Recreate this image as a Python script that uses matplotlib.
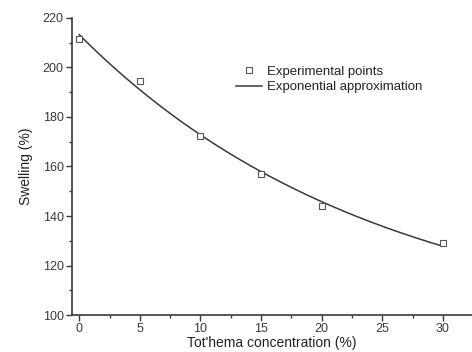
import matplotlib
matplotlib.use('Agg')
import matplotlib.pyplot as plt
import numpy as np
from matplotlib.ticker import MultipleLocator

plt.rcParams['font.family'] = ['Liberation Sans', 'DejaVu Sans']

# Experimental points
conc = [0, 5, 10, 15, 20, 30]
swelling = [211.5, 194.5, 172.5, 157.0, 144.0, 129.0]

# Exponential approximation y = y0 + A*exp(-x/t), fitted to the points
x = np.array(conc, dtype=float)
y = np.array(swelling)
best = None
for t in np.linspace(5, 200, 2000):
    M = np.column_stack([np.ones_like(x), np.exp(-x / t)])
    coef, res, _, _ = np.linalg.lstsq(M, y, rcond=None)
    err = np.sum((M @ coef - y) ** 2)
    if best is None or err < best[0]:
        best = (err, t, coef)
_, tau, (y0, A) = best
xf = np.linspace(0, 30, 200)
yf = y0 + A * np.exp(-xf / tau)

col = '#3a3a3a'
fig = plt.figure(figsize=(4.72, 3.52), dpi=100)
ax = fig.add_axes([0.1525, 0.105, 0.8475, 0.844])

ax.plot(conc, swelling, 's', ms=4.2, mfc='white', mec='#555555', mew=0.8,
        label='Experimental points', zorder=3)
ax.plot(xf, yf, '-', color=col, lw=1.1, label='Exponential approximation')

ax.set_xlim(-0.6, 32.4)
ax.set_ylim(100, 220)
ax.xaxis.set_major_locator(MultipleLocator(5))
ax.xaxis.set_minor_locator(MultipleLocator(2.5))
ax.yaxis.set_major_locator(MultipleLocator(20))
ax.yaxis.set_minor_locator(MultipleLocator(10))
ax.tick_params(which='major', direction='out', length=4, width=1, colors=col,
               labelsize=9, pad=2)
ax.tick_params(which='minor', direction='out', length=2.5, width=1, colors=col)
for s in ['top', 'right']:
    ax.spines[s].set_visible(False)
for s in ['left', 'bottom']:
    ax.spines[s].set_color(col)
    ax.spines[s].set_linewidth(1.2)

ax.set_xlabel("Tot'hema concentration (%)", fontsize=10, color='#222222', labelpad=0.5)
ax.set_ylabel('Swelling (%)', fontsize=10, color='#222222', labelpad=7)

ax.legend(loc='upper left', bbox_to_anchor=(0.41, 0.84), frameon=False,
          fontsize=9.5, handlelength=2.0, handletextpad=0.38, labelspacing=0.25,
          borderaxespad=0, borderpad=0, labelcolor='#222222')

fig.savefig('out.png', dpi=100)
